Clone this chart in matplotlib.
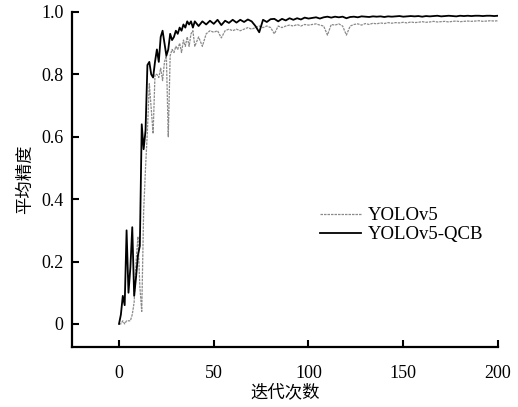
import matplotlib
matplotlib.use("Agg")
import matplotlib.pyplot as plt
import numpy as np

plt.rcParams['font.family'] = ['Liberation Serif', 'Noto Sans CJK SC']

# epochs
epochs_early = list(range(0, 41))
epochs_late = list(range(42, 201, 2))
epochs = epochs_early + epochs_late

yolov5_qcb = [
    0.00, 0.03, 0.09, 0.06, 0.30, 0.10, 0.18, 0.31, 0.09, 0.15,
    0.22, 0.25, 0.64, 0.56, 0.62, 0.83, 0.84, 0.80, 0.79, 0.84,
    0.88, 0.84, 0.92, 0.94, 0.90, 0.86, 0.88, 0.93, 0.91, 0.92,
    0.94, 0.93, 0.95, 0.94, 0.96, 0.95, 0.97, 0.96, 0.97, 0.95,
    0.97,
    # 42..200 step 2
    0.955, 0.970, 0.960, 0.972, 0.962, 0.975, 0.958, 0.972, 0.965, 0.975,
    0.966, 0.975, 0.968, 0.976, 0.970, 0.955, 0.935, 0.975, 0.968, 0.977,
    0.978, 0.970, 0.978, 0.973, 0.980, 0.975, 0.980, 0.976, 0.982, 0.979,
    0.981, 0.983, 0.979, 0.983, 0.985, 0.982, 0.985, 0.983, 0.985, 0.980,
    0.984, 0.985, 0.983, 0.986, 0.985, 0.984, 0.986, 0.985, 0.986, 0.984,
    0.986, 0.985, 0.986, 0.987, 0.985, 0.986, 0.987, 0.986, 0.987, 0.985,
    0.987, 0.986, 0.987, 0.988, 0.986, 0.987, 0.988, 0.987, 0.986, 0.988,
    0.987, 0.988, 0.987, 0.988, 0.988, 0.987, 0.988, 0.988, 0.987, 0.988,
]

yolov5 = [
    0.00, 0.00, 0.01, 0.00, 0.01, 0.01, 0.01, 0.03, 0.07, 0.20,
    0.28, 0.12, 0.04, 0.36, 0.50, 0.62, 0.77, 0.69, 0.61, 0.80,
    0.80, 0.79, 0.82, 0.78, 0.84, 0.86, 0.60, 0.86, 0.88, 0.87,
    0.89, 0.88, 0.90, 0.87, 0.91, 0.89, 0.92, 0.89, 0.93, 0.94,
    0.89,
    # 42..200 step 2
    0.920, 0.890, 0.930, 0.940, 0.935, 0.940, 0.917, 0.940, 0.945, 0.940,
    0.945, 0.940, 0.945, 0.950, 0.945, 0.950, 0.955, 0.950, 0.955, 0.950,
    0.930, 0.955, 0.950, 0.955, 0.958, 0.955, 0.960, 0.955, 0.960, 0.958,
    0.960, 0.962, 0.958, 0.955, 0.926, 0.960, 0.958, 0.962, 0.955, 0.926,
    0.955, 0.960, 0.962, 0.958, 0.963, 0.960, 0.964, 0.962, 0.965, 0.963,
    0.966, 0.964, 0.966, 0.965, 0.967, 0.965, 0.968, 0.966, 0.967, 0.969,
    0.967, 0.968, 0.970, 0.968, 0.969, 0.970, 0.968, 0.970, 0.971, 0.969,
    0.970, 0.971, 0.970, 0.971, 0.972, 0.970, 0.971, 0.972, 0.971, 0.972,
]

x_ticks = [0, 50, 100, 150, 200]
y_ticks = [0, 0.2, 0.4, 0.6, 0.8, 1.0]
y_tick_labels = ["0", "0.2", "0.4", "0.6", "0.8", "1.0"]

fig = plt.figure(figsize=(5.18, 4.07), dpi=100)
ax = fig.add_axes([72/518, 60/407, (498-72)/518, (347-12)/407])

ax.plot(epochs, yolov5, color='#8a8a8a', lw=0.9, linestyle=(0, (2, 0.8)), label='YOLOv5')
ax.plot(epochs, yolov5_qcb, color='black', lw=1.3, label='YOLOv5-QCB')

ax.set_xlim(-24.8, 200)
ax.set_ylim(-0.074, 1.0)
ax.set_xticks(x_ticks)
ax.set_xticklabels([str(t) for t in x_ticks])
ax.set_yticks(y_ticks)
ax.set_yticklabels(y_tick_labels)

for s in ['top', 'right']:
    ax.spines[s].set_visible(False)
for s in ['left', 'bottom']:
    ax.spines[s].set_linewidth(1.6)

ax.tick_params(axis='both', direction='in', length=5, width=1.5, labelsize=13)
ax.tick_params(axis='x', pad=13)
ax.tick_params(axis='y', pad=6)

ax.set_xlabel('迭代次数', family=['Noto Sans CJK SC'], fontsize=12.5, labelpad=1)
ax.set_ylabel('平均精度', family=['Noto Sans CJK SC'], fontsize=12.5, labelpad=5)

leg = ax.legend(loc='upper left', bbox_to_anchor=(0.565, 0.44), frameon=False,
                fontsize=13.5, handlelength=2.2, handletextpad=0.35, labelspacing=0.1,
                borderaxespad=0)

fig.savefig('out.png', dpi=100)
